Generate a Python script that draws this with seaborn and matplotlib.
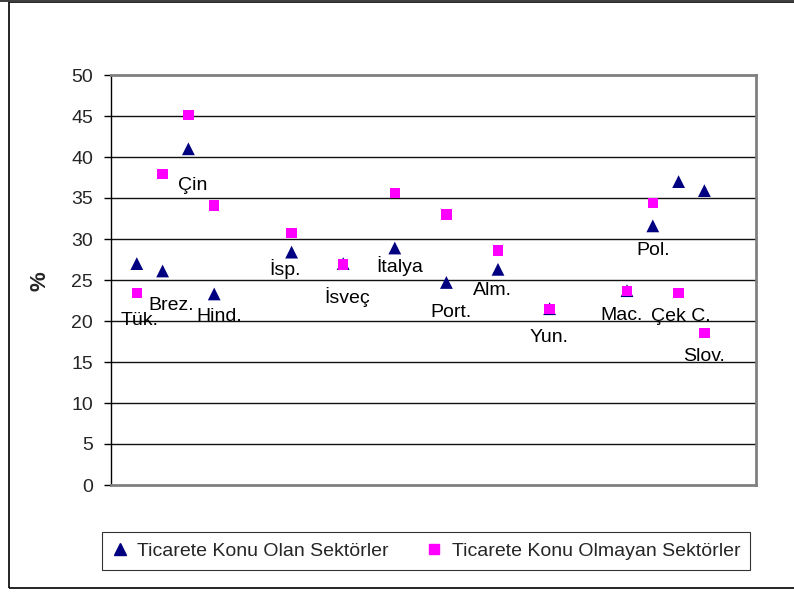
import matplotlib
matplotlib.use("Agg")
import matplotlib.pyplot as plt
import seaborn as sns
import pandas as pd
import numpy as np
from matplotlib.patches import Rectangle
from matplotlib.lines import Line2D

# ---- data ----
countries = ["Tük.", "Brez.", "Çin", "Hind.", "İsp.", "İsveç", "İtalya",
             "Port.", "Alm.", "Yun.", "Mac.", "Pol.", "Çek C.", "Slov."]
positions = [1, 2, 3, 4, 7, 9, 11, 13, 15, 17, 20, 21, 22, 23]
traded = [27.0, 26.1, 41.0, 23.3, 28.4, 27.0, 28.9, 24.7, 26.3, 21.5, 23.7, 31.6, 37.0, 35.9]
nontraded = [23.4, 37.9, 45.1, 34.1, 30.7, 26.9, 35.6, 33.0, 28.6, 21.5, 23.7, 34.4, 23.4, 18.5]
series_names = ["Ticarete Konu Olan Sektörler", "Ticarete Konu Olmayan Sektörler"]
yticks = [0, 5, 10, 15, 20, 25, 30, 35, 40, 45, 50]

# label offsets in pixels relative to the triangle marker (dx, dy up)
label_offsets = [(3, -61), (9, -39), (4, -41), (5, -27), (-7, -23), (4, -39), (5, -24),
                 (5, -35), (-6, -26), (-1, -33), (-5, -29), (0, -29), (2, -139), (0, -170)]

df = pd.DataFrame({
    "x": positions * 2,
    "y": traded + nontraded,
    "series": [series_names[0]] * len(positions) + [series_names[1]] * len(positions),
})

sns.set_style("white")
plt.rcParams["font.family"] = ["Liberation Sans", "DejaVu Sans"]

fig = plt.figure(figsize=(7.94, 5.92), dpi=100)
ax = fig.add_axes([111 / 794, 1 - 485 / 592, 645 / 794, 410 / 592])

# gridlines
for t in yticks[1:-1]:
    ax.axhline(t, color="#111111", lw=1.0, zorder=1)

sns.scatterplot(data=df, x="x", y="y", hue="series", style="series",
                palette={series_names[0]: "#000080", series_names[1]: "#FF00FF"},
                markers={series_names[0]: "^", series_names[1]: "s"},
                s=80, edgecolor="none", linewidth=0, ax=ax, legend=False, zorder=3)
n = len(positions)
ax.collections[0].set_sizes(np.array([85] * n + [55] * n))

for name, xv, yv, (dx, dy) in zip(countries, positions, traded, label_offsets):
    ax.annotate(name, (xv, yv), xytext=(dx, dy), textcoords="offset pixels",
                ha="center", va="baseline", fontsize=14, color="black", zorder=4)

ax.set_xlim(0, 25)
ax.set_ylim(0, 50)
ax.set_xticks([])
ax.set_yticks(yticks)
ax.set_yticklabels([str(t) for t in yticks], fontsize=14)
ax.tick_params(axis="y", direction="out", length=5, width=1, color="black", pad=8, left=True)
ax.set_xlabel("")
ax.set_ylabel("")
for side in ["top", "right", "bottom"]:
    ax.spines[side].set_color("#808080")
    ax.spines[side].set_linewidth(2)
ax.spines["left"].set_color("black")
ax.spines["left"].set_linewidth(1)

fig.text(40 / 794, 1 - 281 / 592, "%", rotation=90, fontsize=16, fontweight="bold",
         ha="center", va="center")

handles = [Line2D([], [], marker="^", color="#000080", linestyle="none", markersize=9),
           Line2D([], [], marker="s", color="#FF00FF", linestyle="none", markersize=7)]
leg = fig.legend(handles, series_names, ncol=2, fontsize=14,
                 bbox_to_anchor=(102 / 794, 1 - 573 / 592, 648 / 794, 44 / 592),
                 loc="center", mode="expand", borderaxespad=0, frameon=True,
                 fancybox=False, edgecolor="black", handlelength=0.8, handletextpad=0.5,
                 columnspacing=1.0, borderpad=0.5)
leg.get_frame().set_linewidth(0.8)

# outer chart border (right edge falls outside the image)
fig.patches.append(Rectangle((9 / 794, 1 - 588 / 592), 800 / 794, 586 / 592,
                             transform=fig.transFigure, fill=False, edgecolor="black", lw=1.2))
fig.patches.append(Rectangle((0, 1 - 2 / 592), 1, 2 / 592, transform=fig.transFigure,
                             facecolor="#404040", edgecolor="none"))

fig.savefig("out.png", dpi=100)
